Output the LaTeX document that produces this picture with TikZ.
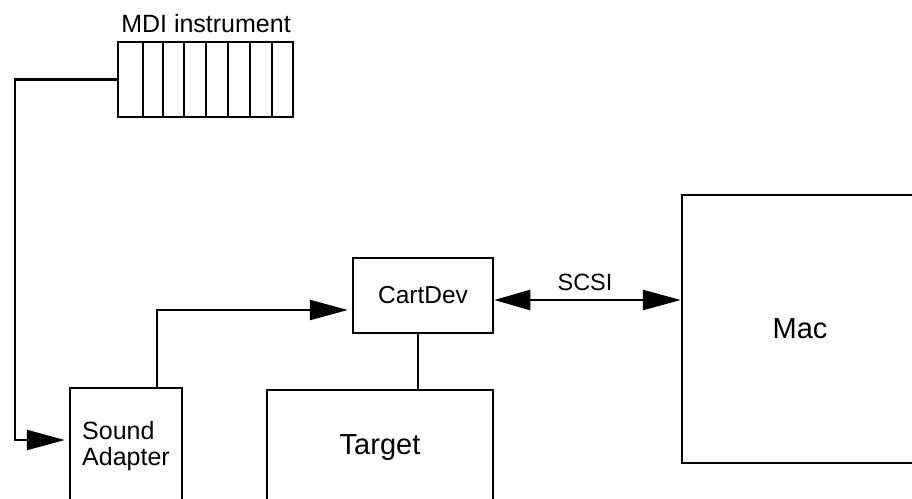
\documentclass[tikz,border=0pt]{standalone}
\usepackage{fontspec}
\setmainfont{Liberation Sans}
\usetikzlibrary{arrows.meta,calc}
\tikzset{
  box/.style={draw=black, line width=2.5pt, rectangle, inner sep=0pt, fill=white},
  wire/.style={draw=black, line width=2.5pt},
  arr/.style={wire, -{Triangle[length=38pt,width=20pt]}, shorten >=4pt},
  dblarr/.style={wire, {Triangle[length=36pt,width=20pt]}-{Triangle[length=38pt,width=20pt]}},
  smalltxt/.style={font=\fontsize{25}{26}\selectfont},
  bigtxt/.style={font=\fontsize{29}{30}\selectfont}
}
\begin{document}
\begin{tikzpicture}[x=1pt,y=-1pt]
\useasboundingbox (0,0) rectangle (912,498);
\clip (0,0) rectangle (912,498);
\fill[white] (0,0) rectangle (912,498);

% MDI instrument
\node[box, minimum width=175pt, minimum height=75pt] (mdi) at (205.5,79.5) {};
\foreach \xx in {143,163,184,206,228,250,272}
  \draw[wire] (\xx,42) -- (\xx,117);
\node[smalltxt, inner sep=0pt] (mdilabel) at (206,24) {MDI instrument};

% Sound Adapter
\node[box, minimum width=112pt, minimum height=117pt, smalltxt, align=left] (sound) at (126,446.5) {Sound\\Adapter};

% CartDev
\node[box, minimum width=140pt, minimum height=75pt, font=\fontsize{24.5}{26}\selectfont] (cartdev) at (423,295.5) {CartDev};

% Target
\node[box, minimum width=226pt, minimum height=115pt, bigtxt] (target) at (380,447.5) {Target};

% Mac
\node[box, minimum width=236pt, minimum height=268pt, bigtxt] (mac) at (800,329) {Mac};

% SCSI label
\node[font=\fontsize{23.5}{25}\selectfont, inner sep=0pt] (scsi) at (585,282) {SCSI};

% connectors
\coordinate (c1) at (15,440);
\draw[arr] (mdi.west) -| (c1) -- (c1 -| sound.west);

\coordinate (c2) at (157,310);
\draw[arr] (c2 |- sound.north) -- (c2) -- (c2 -| cartdev.west);

\coordinate (c3) at (600,300);
\draw[dblarr] (c3 -| cartdev.east) -- (c3 -| mac.west);

\coordinate (c4) at (418,360);
\draw[wire] (c4 |- cartdev.south) -- (c4 |- target.north);
\end{tikzpicture}
\end{document}
